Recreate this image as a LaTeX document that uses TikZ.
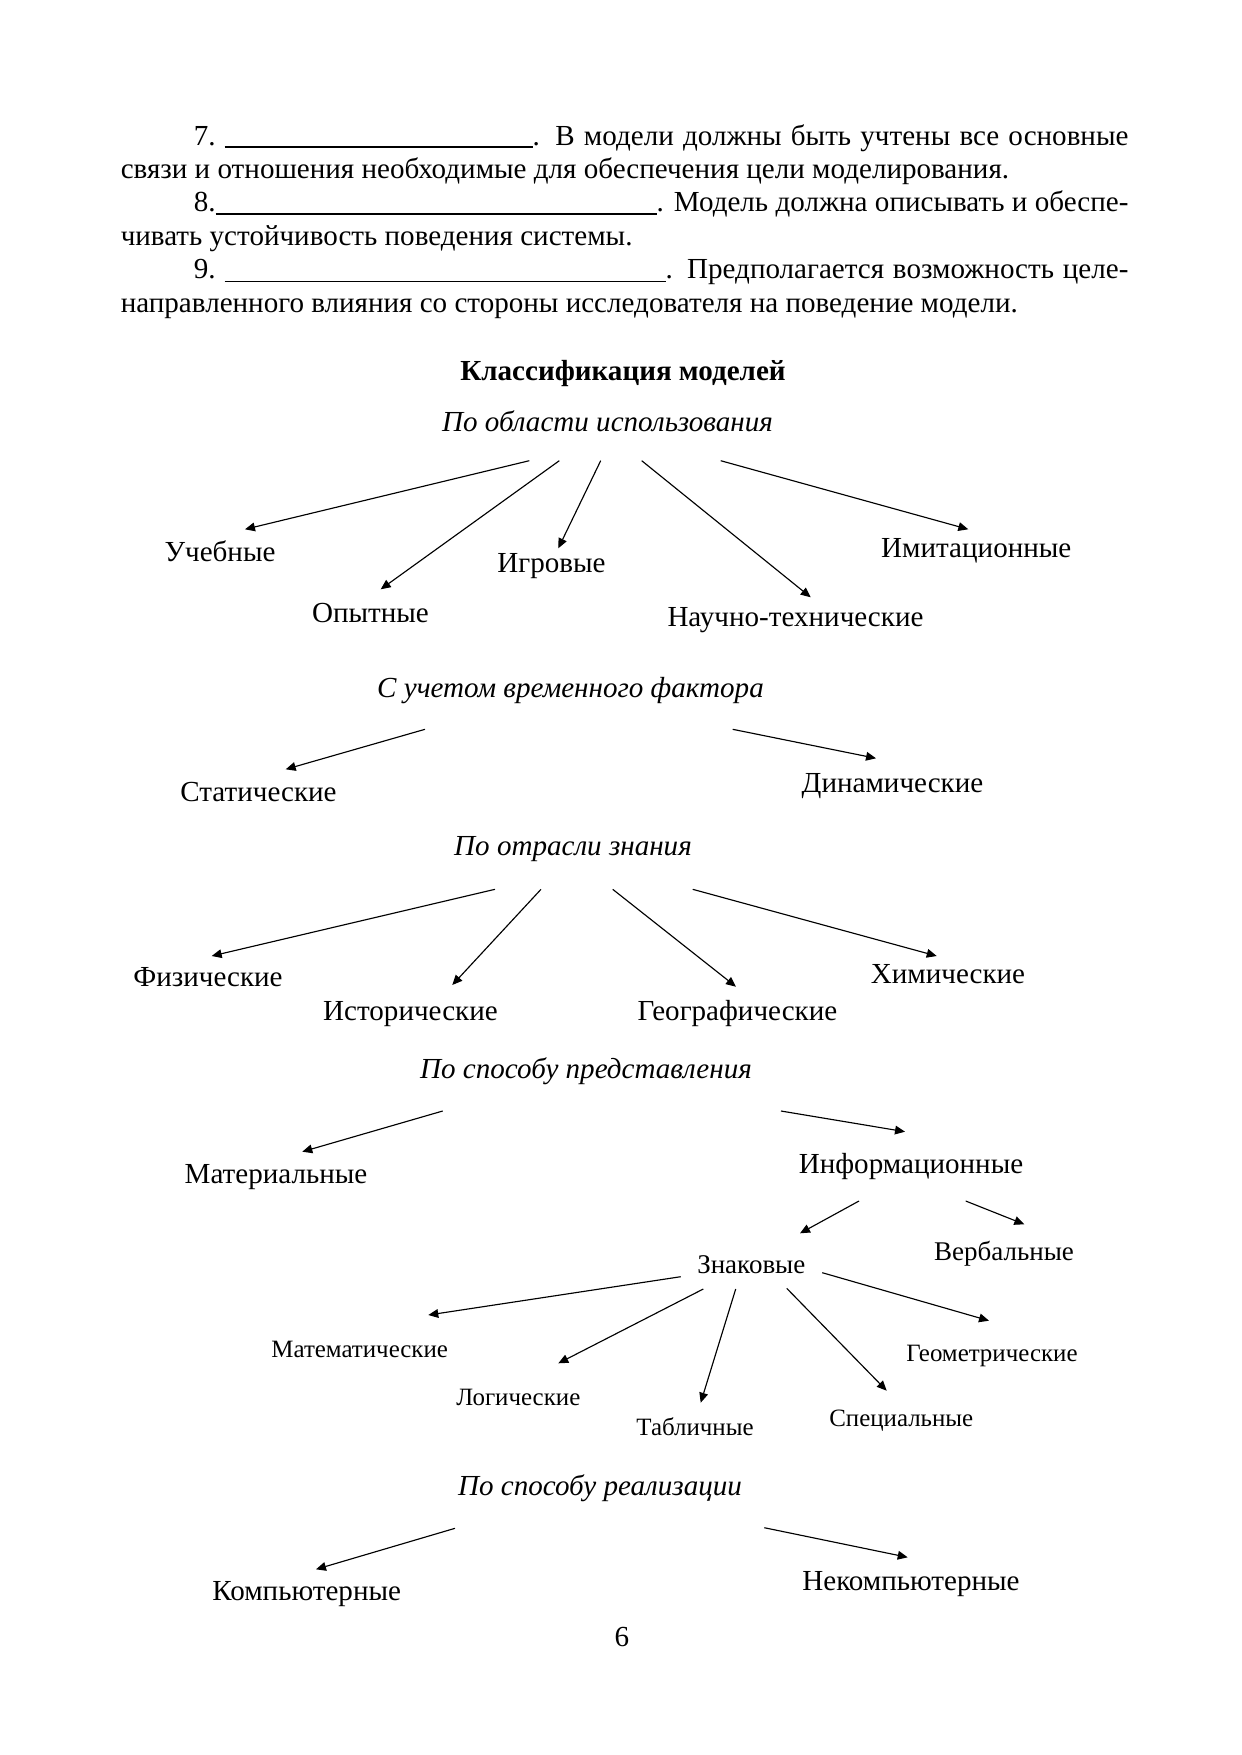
\documentclass[tikz,border=0pt]{standalone}
\usepackage{fontspec}
\setmainfont{Liberation Serif}
\usetikzlibrary{arrows.meta}

\tikzset{
  txt/.style={anchor=base west, inner sep=0, font=\fontsize{14}{16}\selectfont},
  lbl/.style={anchor=base, inner sep=0, font=\fontsize{14}{16}\selectfont},
  midlbl/.style={anchor=base, inner sep=0, font=\fontsize{13}{15}\selectfont},
  sublbl/.style={anchor=base, inner sep=0, font=\fontsize{12}{14}\selectfont},
  head/.style={anchor=base, inner sep=0, font=\fontsize{14}{16}\selectfont\itshape},
  arr/.style={-{Triangle[length=4.8pt,width=4.2pt]}, line width=0.55pt}
}
\newcommand{\blank}[2]{\rule[-1.6pt]{#1}{#2}}

\begin{document}
\begin{tikzpicture}[x=0.4797bp, y=-0.4797bp]
  \fill[white] (0,0) rectangle (1241,1755);

  % text above the scheme
  \node[txt] (p7a) at (193.5,145) {\makebox[448.3bp][s]{7.\kern4.3bp\blank{147.7bp}{1pt}. В модели должны быть учтены все основные}};
  \node[txt] (p7b) at (120.4,178.4) {связи и отношения необходимые для обеспечения цели моделирования.};
  \node[txt] (p8a) at (193.5,211.8) {\makebox[448.3bp][s]{8.\blank{211.5bp}{1pt}. Модель должна описывать и обеспе-}};
  \node[txt] (p8b) at (120.4,245.2) {чивать устойчивость поведения системы.};
  \node[txt] (p9a) at (193.5,278.6) {\makebox[448.3bp][s]{9.\kern4.3bp\blank{211.5bp}{0.5pt}. Предполагается возможность целе-}};
  \node[txt] (p9b) at (120.4,312) {направленного влияния со стороны исследователя на поведение модели.};

  \node[lbl, font=\fontsize{14}{16}\selectfont\bfseries] (title) at (623,380) {Классификация моделей};

  % по области использования
  \node[head] (area) at (607.5,431) {По области использования};
  \node[lbl] (ucheb) at (220,561) {Учебные};
  \node[lbl] (opyt) at (370.5,622) {Опытные};
  \node[lbl] (igr) at (551.5,572) {Игровые};
  \node[lbl] (nauch) at (795.5,626) {Научно-технические};
  \node[lbl] (imit) at (976.3,557.5) {Имитационные};
  \coordinate (area-1) at (529.3,460.7);
  \coordinate (area-2) at (559.3,460.7);
  \coordinate (area-3) at (600.7,460.7);
  \coordinate (area-4) at (641.7,460.7);
  \coordinate (area-5) at (720.7,460.7);
  \coordinate (ucheb-t) at (245,529.3);
  \coordinate (opyt-t) at (380.7,589.3);
  \coordinate (igr-t) at (558.3,548.3);
  \coordinate (nauch-t) at (810.7,597.3);
  \coordinate (imit-t) at (968.3,529.3);
  \draw[arr] (area-1) -- (ucheb-t);
  \draw[arr] (area-2) -- (opyt-t);
  \draw[arr] (area-3) -- (igr-t);
  \draw[arr] (area-4) -- (nauch-t);
  \draw[arr] (area-5) -- (imit-t);

  % с учетом временного фактора
  \node[head] (time) at (570.5,697) {С учетом временного фактора};
  \node[lbl] (stat) at (258.5,801.7) {Статические};
  \node[lbl] (dyn) at (892.5,792.7) {Динамические};
  \coordinate (time-1) at (425,729.3);
  \coordinate (time-2) at (732.7,729.3);
  \coordinate (stat-t) at (285.7,769.3);
  \coordinate (dyn-t) at (876,758.3);
  \draw[arr] (time-1) -- (stat-t);
  \draw[arr] (time-2) -- (dyn-t);

  % по отрасли знания
  \node[head] (field) at (573,855) {По отрасли знания};
  \node[lbl] (fiz) at (208,986.7) {Физические};
  \node[lbl] (ist) at (410.5,1020.7) {Исторические};
  \node[lbl] (geo) at (737.5,1020.7) {Географические};
  \node[lbl] (chem) at (948,983) {Химические};
  \coordinate (field-1) at (495,889.3);
  \coordinate (field-2) at (541,889.3);
  \coordinate (field-3) at (612.7,889.3);
  \coordinate (field-4) at (692.7,889.3);
  \coordinate (fiz-t) at (211.7,956);
  \coordinate (ist-t) at (452.3,985);
  \coordinate (geo-t) at (736,986.7);
  \coordinate (chem-t) at (936.7,956);
  \draw[arr] (field-1) -- (fiz-t);
  \draw[arr] (field-2) -- (ist-t);
  \draw[arr] (field-3) -- (geo-t);
  \draw[arr] (field-4) -- (chem-t);

  % по способу представления
  \node[head] (form) at (586,1078) {По способу представления};
  \node[lbl] (mater) at (276,1183) {Материальные};
  \node[lbl] (inform) at (911,1173) {Информационные};
  \node[midlbl] (znak) at (751.3,1273.5) {Знаковые};
  \node[midlbl] (verb) at (1004,1260.7) {Вербальные};
  \coordinate (form-1) at (442.7,1111);
  \coordinate (form-2) at (781,1111);
  \coordinate (mater-t) at (302.3,1151.7);
  \coordinate (inform-t) at (905,1131.7);
  \draw[arr] (form-1) -- (mater-t);
  \draw[arr] (form-2) -- (inform-t);
  \coordinate (inform-1) at (859,1201);
  \coordinate (inform-2) at (965.7,1201);
  \coordinate (znak-t) at (800,1233.3);
  \coordinate (verb-t) at (1024.3,1224.3);
  \draw[arr] (inform-1) -- (znak-t);
  \draw[arr] (inform-2) -- (verb-t);

  % знаковые
  \node[sublbl] (matem) at (359.7,1357) {Математические};
  \node[sublbl] (logic) at (518.3,1405) {Логические};
  \node[sublbl] (tabl) at (695,1435) {Табличные};
  \node[sublbl] (spec) at (901.3,1426.7) {Специальные};
  \node[sublbl] (geom) at (992,1361.7) {Геометрические};
  \coordinate (znak-1) at (680.7,1276.7);
  \coordinate (znak-2) at (703.3,1289);
  \coordinate (znak-3) at (735.7,1289);
  \coordinate (znak-4) at (786.7,1288.3);
  \coordinate (znak-5) at (822.3,1272.7);
  \coordinate (matem-t) at (428.3,1315);
  \coordinate (logic-t) at (558.3,1363.3);
  \coordinate (tabl-t) at (700.7,1402.7);
  \coordinate (spec-t) at (886.7,1390.7);
  \coordinate (geom-t) at (989,1320.7);
  \draw[arr] (znak-1) -- (matem-t);
  \draw[arr] (znak-2) -- (logic-t);
  \draw[arr] (znak-3) -- (tabl-t);
  \draw[arr] (znak-4) -- (spec-t);
  \draw[arr] (znak-5) -- (geom-t);

  % по способу реализации
  \node[head] (impl) at (600,1495) {По способу реализации};
  \node[lbl] (komp) at (306.7,1600) {Компьютерные};
  \node[lbl] (nekomp) at (911,1590.7) {Некомпьютерные};
  \coordinate (impl-1) at (455,1528.3);
  \coordinate (impl-2) at (764.3,1527.7);
  \coordinate (komp-t) at (316,1569.3);
  \coordinate (nekomp-t) at (907.7,1557.3);
  \draw[arr] (impl-1) -- (komp-t);
  \draw[arr] (impl-2) -- (nekomp-t);

  \node[lbl] (page) at (622,1646) {6};
\end{tikzpicture}
\end{document}
